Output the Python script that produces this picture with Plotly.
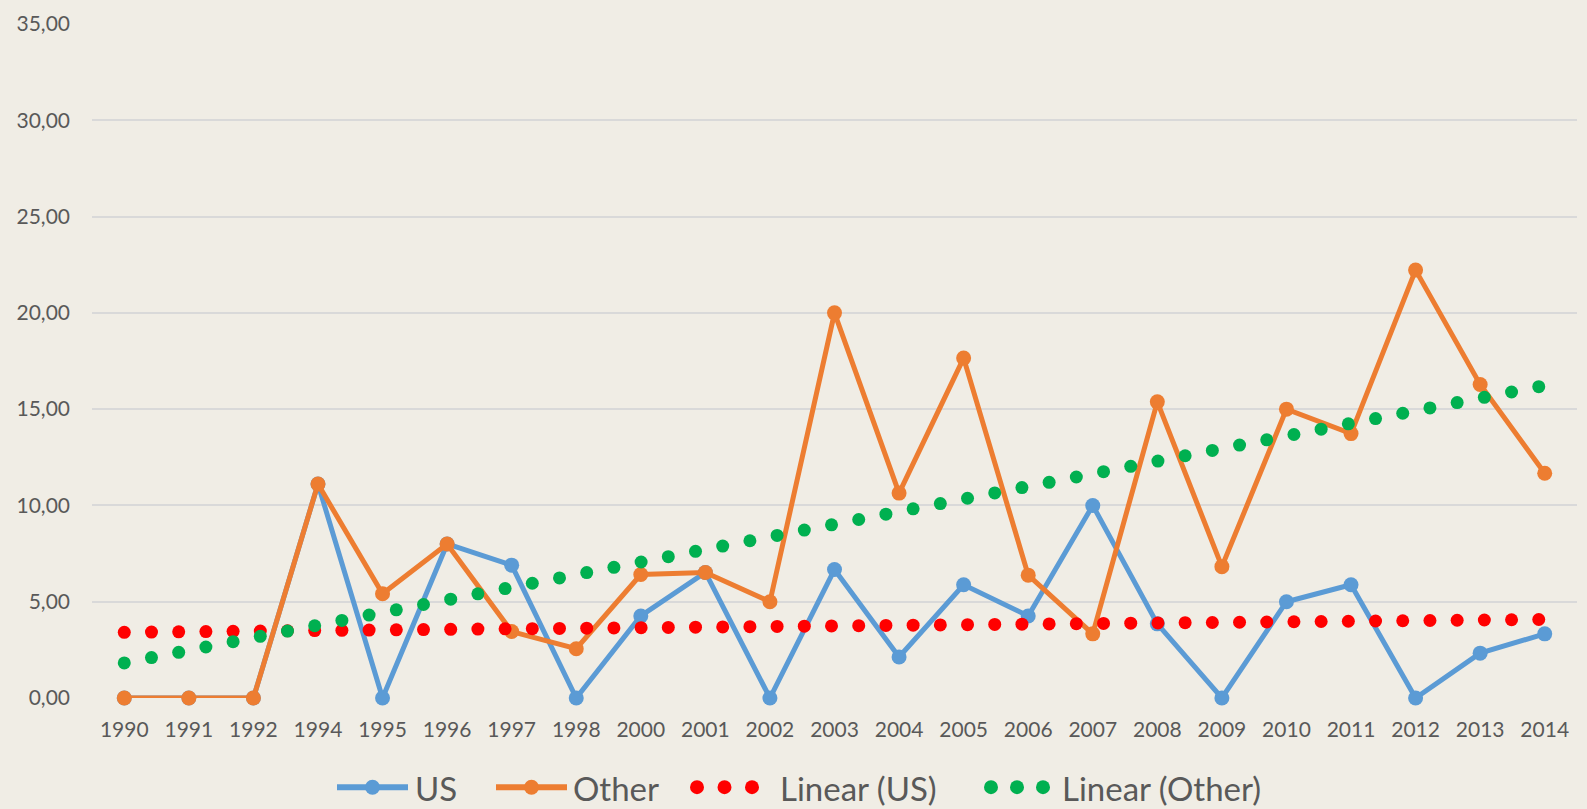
import numpy as np
import plotly.graph_objects as go

# Survey years (1993 and 1999 are missing from the series)
years = ["1990", "1991", "1992", "1994", "1995", "1996", "1997", "1998", "2000",
         "2001", "2002", "2003", "2004", "2005", "2006", "2007", "2008", "2009",
         "2010", "2011", "2012", "2013", "2014"]

us_values = [0.00, 0.00, 0.00, 11.11, 0.00, 8.00, 6.90, 0.00, 4.26,
             6.52, 0.00, 6.67, 2.13, 5.88, 4.26, 10.00, 3.85, 0.00,
             5.00, 5.88, 0.00, 2.33, 3.33]

other_values = [0.00, 0.00, 0.00, 11.11, 5.41, 8.00, 3.45, 2.56, 6.41,
                6.52, 5.00, 20.00, 10.64, 17.65, 6.38, 3.33, 15.38, 6.82,
                15.00, 13.73, 22.22, 16.28, 11.67]

y_ticks = [0, 5, 10, 15, 20, 25, 30, 35]

# Colours and style
BG = "#F0EDE5"
GRID = "#D9D9D9"
TEXT = "#595959"
US_COLOR = "#5B9BD5"
OTHER_COLOR = "#ED7D31"
US_TREND = "#FF0000"
OTHER_TREND = "#00B050"
FONT = "Lato"

# Geometry of the plotting area in pixels
W, H = 1587, 809
L, R, T, B = 92, 10, 18, 111
PLOT_W = W - L - R
PLOT_H = H - T - B

idx = np.arange(len(years))

# Least-squares trend lines over the category index, drawn as round dots
DOT_STEP = 0.4213
dot_x = np.arange(0, len(years) - 1 + 1e-9, DOT_STEP)
us_fit = np.poly1d(np.polyfit(idx, us_values, 1))
other_fit = np.poly1d(np.polyfit(idx, other_values, 1))

fig = go.Figure()

fig.add_trace(go.Scatter(
    x=idx, y=us_values, name="US", mode="lines+markers",
    line=dict(color=US_COLOR, width=5),
    marker=dict(color=US_COLOR, size=15, line=dict(width=0)),
    cliponaxis=False, showlegend=False))

fig.add_trace(go.Scatter(
    x=idx, y=other_values, name="Other", mode="lines+markers",
    line=dict(color=OTHER_COLOR, width=5),
    marker=dict(color=OTHER_COLOR, size=15, line=dict(width=0)),
    cliponaxis=False, showlegend=False))

fig.add_trace(go.Scatter(
    x=dot_x, y=us_fit(dot_x), name="Linear (US)", mode="markers",
    marker=dict(color=US_TREND, size=13, line=dict(width=0)),
    cliponaxis=False, showlegend=False))

fig.add_trace(go.Scatter(
    x=dot_x, y=other_fit(dot_x), name="Linear (Other)", mode="markers",
    marker=dict(color=OTHER_TREND, size=13, line=dict(width=0)),
    cliponaxis=False, showlegend=False))


# Legend drawn below the axis, laid out in pixels
def px_x(px):
    return (px - L) / PLOT_W


def px_y(py):
    return (H - B - py) / PLOT_H


LEG_Y = 788
shapes = []
annotations = []


def dot(cx, r, color):
    shapes.append(dict(type="circle", xref="paper", yref="paper",
                       x0=px_x(cx - r), x1=px_x(cx + r),
                       y0=px_y(LEG_Y + r), y1=px_y(LEG_Y - r),
                       fillcolor=color, line=dict(width=0)))


def legend_line(x0, x1, color):
    shapes.append(dict(type="line", xref="paper", yref="paper",
                       x0=px_x(x0), x1=px_x(x1), y0=px_y(LEG_Y), y1=px_y(LEG_Y),
                       line=dict(color=color, width=6)))
    dot((x0 + x1) / 2, 7.5, color)


def legend_text(x, label):
    annotations.append(dict(text=label, xref="paper", yref="paper",
                            x=px_x(x), y=px_y(LEG_Y + 1), xanchor="left",
                            yanchor="middle", showarrow=False,
                            font=dict(family=FONT, size=33, color=TEXT)))


legend_line(337, 408, US_COLOR)
legend_text(413, "US")
legend_line(496, 567, OTHER_COLOR)
legend_text(571, "Other")
for cx in (697, 724.5, 752):
    dot(cx, 7, US_TREND)
legend_text(778, "Linear (US)")
for cx in (991, 1017, 1043):
    dot(cx, 7, OTHER_TREND)
legend_text(1060, "Linear (Other)")

fig.update_layout(
    width=W, height=H,
    margin=dict(l=L, r=R, t=T, b=B, pad=0),
    paper_bgcolor=BG, plot_bgcolor=BG,
    separators=",.",
    font=dict(family=FONT, color=TEXT),
    shapes=shapes, annotations=annotations,
    showlegend=False,
    xaxis=dict(
        range=[-0.5, len(years) - 0.5],
        tickmode="array", tickvals=idx, ticktext=years,
        showgrid=False, zeroline=False, showline=False, ticks="",
        tickfont=dict(family=FONT, size=21, color=TEXT),
        ticklabelstandoff=17, fixedrange=True),
    yaxis=dict(
        range=[0, 35],
        tickmode="array", tickvals=y_ticks, tickformat=".2f",
        showgrid=True, gridcolor=GRID, gridwidth=1.5,
        zeroline=False, showline=False, ticks="",
        tickfont=dict(family=FONT, size=21, color=TEXT),
        ticklabelstandoff=21, fixedrange=True),
)

fig.write_html("out.html", config={"displayModeBar": False})
